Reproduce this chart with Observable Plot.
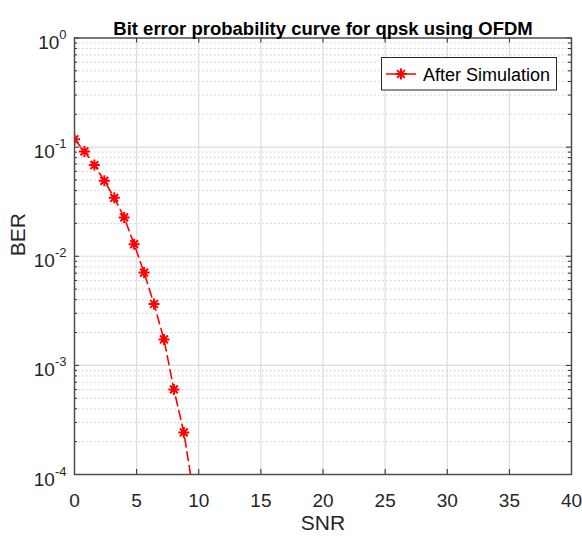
<!DOCTYPE html>
<html><head><meta charset="utf-8">
<script src="https://cdn.jsdelivr.net/npm/d3@7"></script>
<script src="https://cdn.jsdelivr.net/npm/@observablehq/plot@0.6"></script>
<style>body{margin:0;background:#fff;} svg{overflow:visible}</style>
</head><body><div id="chart"></div>
<script>
const snr = [0, 0.8, 1.6, 2.4, 3.2, 4.0, 4.8, 5.6, 6.4, 7.2, 8.0, 8.8, 9.6];
const ber = [0.118, 0.0913, 0.0684, 0.0491, 0.0343, 0.0227, 0.0129, 0.00708, 0.00365, 0.00173, 0.000602, 0.000243, 0.000065];
const seriesName = "After Simulation";
const title = "Bit error probability curve for qpsk using OFDM";
const xLabel = "SNR";
const yLabel = "BER";
const xTicks = [0, 5, 10, 15, 20, 25, 30, 35, 40];
const yTicks = [1e-4, 1e-3, 1e-2, 1e-1, 1];
const minorMult = [2, 3, 4, 5, 6, 7, 8, 9];
const yMinor = yTicks.slice(0, -1).flatMap(d => minorMult.map(m => m * d));

const font = "'Liberation Sans', Arial, Helvetica, sans-serif";
const W = 582, H = 544, mL = 74, mR = 11, mT = 37.5, mB = 70;
const pw = W - mL - mR, ph = H - mT - mB;
const axisColor = "#262626";
const data = snr.map((x, i) => ({x, y: ber[i]}));

const asterisk = {
  draw(ctx, size) {
    const r = Math.sqrt(size / Math.PI);
    const d = r * Math.SQRT1_2;
    ctx.moveTo(-r, 0); ctx.lineTo(r, 0);
    ctx.moveTo(0, -r); ctx.lineTo(0, r);
    ctx.moveTo(-d, -d); ctx.lineTo(d, d);
    ctx.moveTo(-d, d); ctx.lineTo(d, -d);
  }
};

const plot = Plot.plot({
  width: W, height: H,
  marginLeft: mL, marginRight: mR, marginTop: mT, marginBottom: mB,
  style: {fontFamily: font, background: "white", overflow: "visible"},
  x: {domain: [0, 40]},
  y: {type: "log", domain: [1e-4, 1]},
  marks: [
    Plot.ruleY(yMinor, {stroke: "#cccccc", strokeDasharray: "1.5,2.5"}),
    Plot.ruleX(xTicks.slice(1, -1), {stroke: "#dddddd", strokeWidth: 1.2}),
    Plot.ruleY(yTicks.slice(1, -1), {stroke: "#dddddd", strokeWidth: 1.2}),
    Plot.line(data, {x: "x", y: "y", stroke: "#ff0000", strokeWidth: 1.6, strokeDasharray: "9,5", clip: true}),
    Plot.dot(data, {x: "x", y: "y", symbol: asterisk, r: 5.5, stroke: "#ff0000", fill: "none", strokeWidth: 2, clip: true}),
    Plot.ruleX(xTicks, {insetTop: ph - 5, stroke: axisColor}),
    Plot.ruleX(xTicks, {insetBottom: ph - 5, stroke: axisColor}),
    Plot.ruleY(yTicks, {insetRight: pw - 5, stroke: axisColor}),
    Plot.ruleY(yTicks, {insetLeft: pw - 5, stroke: axisColor}),
    Plot.ruleY(yMinor, {insetRight: pw - 3, stroke: axisColor}),
    Plot.ruleY(yMinor, {insetLeft: pw - 3, stroke: axisColor}),
    Plot.frame({stroke: "#4d4d4d", strokeWidth: 1.5}),
    Plot.axisX({ticks: xTicks, tickSize: 0, tickPadding: 19, fontSize: 19, label: null, color: axisColor, tickFormat: d => String(d)}),
    Plot.axisY({ticks: yTicks, tickSize: 0, tickPadding: 8, fontSize: 19, label: null, color: axisColor, dy: 5, tickFormat: d => "10^" + Math.round(Math.log10(d))}),
    Plot.text([xLabel], {text: d => d, frameAnchor: "bottom", dy: 55, fontSize: 21, fill: axisColor}),
    Plot.text([yLabel], {text: d => d, frameAnchor: "left", rotate: -90, dx: -56, fontSize: 21, fill: axisColor}),
    Plot.text([title], {text: d => d, frameAnchor: "top", dy: -15.7, fontSize: 18.5, fontWeight: "bold", fill: "#000"})
  ]
});

const svg = d3.select(plot);
svg.selectAll('g[aria-label="y-axis tick label"] text').each(function() {
  const s = this.textContent;
  const exp = s.split("^")[1];
  const t = d3.select(this);
  t.text(null);
  t.append("tspan").text("10");
  t.append("tspan").attr("dy", -10).attr("font-size", 13).text(exp);
});

const lg = svg.append("g").attr("font-family", font).attr("text-anchor", "start");
lg.append("rect").attr("x", 381.5).attr("y", 57.5).attr("width", 175).attr("height", 32.5)
  .attr("fill", "white").attr("stroke", axisColor).attr("stroke-width", 1);
lg.append("line").attr("x1", 386).attr("x2", 416).attr("y1", 74).attr("y2", 74)
  .attr("stroke", "#ff0000").attr("stroke-width", 1.5);
const p = d3.path();
asterisk.draw(p, 5.5 * 5.5 * Math.PI);
lg.append("path").attr("d", p.toString()).attr("transform", "translate(401,74)")
  .attr("stroke", "#ff0000").attr("stroke-width", 2).attr("fill", "none");
lg.append("text").attr("x", 423).attr("y", 81).attr("font-size", 18).attr("fill", "#000")
  .attr("text-anchor", "start").text(seriesName);

document.getElementById("chart").appendChild(plot);
</script>
</body></html>
